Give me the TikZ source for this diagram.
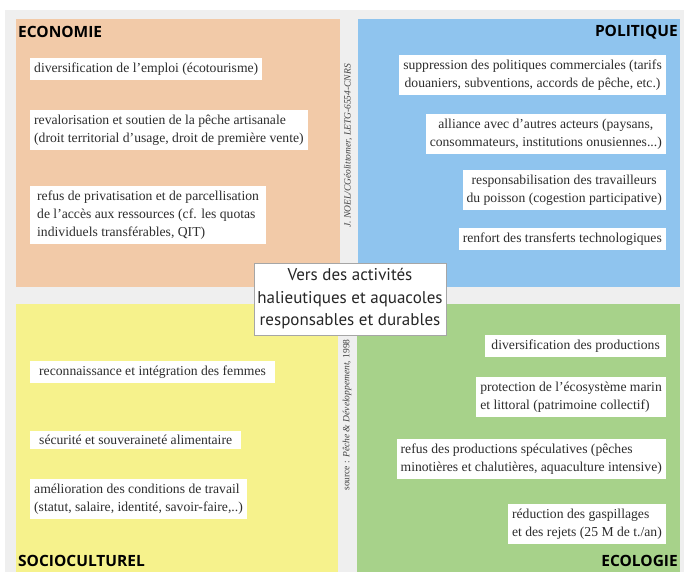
\documentclass[tikz,border=0pt]{standalone}
\usepackage{fontspec}
\setmainfont{Liberation Serif}
\newfontfamily\headfont{PT Sans}
\newfontfamily\labelfont{Open Sans}
\usepackage{xcolor}
\definecolor{ecoorange}{RGB}{242,202,168}
\definecolor{polblue}{RGB}{143,196,238}
\definecolor{socyellow}{RGB}{246,242,140}
\definecolor{ecogreen}{RGB}{167,210,138}
\definecolor{bggrey}{RGB}{239,239,239}
\definecolor{itemtext}{RGB}{45,45,45}
\usetikzlibrary{positioning}

\begin{document}
\begin{tikzpicture}[x=1pt,y=-1pt,
  item/.style={fill=white,inner xsep=4pt,inner ysep=4.5pt,text=itemtext,
               font=\fontsize{13.65}{18}\selectfont},
  itemL/.style={item,anchor=west,align=left},
  itemR/.style={item,anchor=east,align=left},
  itemC/.style={item,anchor=east,align=center},
  quadlabel/.style={font=\labelfont\bfseries\fontsize{15.5}{18}\selectfont,inner sep=0pt},
  credit/.style={rotate=90,font=\fontsize{9.5}{11}\selectfont,text=black!75,inner sep=0pt}]
  \useasboundingbox (0,0) rectangle (684,572);
  \fill[white] (0,0) rectangle (684,572);
  \fill[bggrey] (5,10) rectangle (684,572);
  %% quadrants
  \fill[ecoorange] (16,19) rectangle (340,287);
  \fill[polblue] (358,19) rectangle (680,287);
  \fill[socyellow] (16,304) rectangle (338,572);
  \fill[ecogreen] (357,304) rectangle (680,572);
  %% Economie
  \node[quadlabel,anchor=west] (leco) at (18,32) {ECONOMIE};
  \node[itemL] (e1) at (30,69) {diversification de l'emploi (écotourisme)};
  \node[itemL] (e2) at (30,130)
        {revalorisation et soutien de la pêche artisanale\\(droit territorial d'usage, droit de première vente)};
  \node[itemL,inner xsep=7pt] (e3) at (30,215)
        {refus de privatisation et de parcellisation\\de l'accès aux ressources (cf. les quotas\\individuels transférables, QIT)};
  %% Politique
  \node[quadlabel,anchor=east] (lpol) at (678,32) {POLITIQUE};
  \node[itemC] (p1) at (666,75)
        {suppression des politiques commerciales (tarifs\\douaniers, subventions, accords de pêche, etc.)};
  \node[itemC] (p2) at (666,134)
        {alliance avec d'autres acteurs (paysans,\\consommateurs, institutions onusiennes...)};
  \node[itemC] (p3) at (666,190)
        {responsabilisation des travailleurs\\du poisson (cogestion participative)};
  \node[itemC] (p4) at (666,239) {renfort des transferts technologiques};
  %% Socioculturel
  \node[quadlabel,anchor=west] (lsoc) at (18,561) {SOCIOCULTUREL};
  \node[itemL,inner xsep=9pt] (s1) at (30,372) {reconnaissance et intégration des femmes};
  \node[itemL,inner xsep=9pt] (s2) at (30,440) {sécurité et souveraineté alimentaire};
  \node[itemL] (s3) at (30,499)
        {amélioration des conditions de travail\\(statut, salaire, identité, savoir-faire,..)};
  %% Ecologie
  \node[quadlabel,anchor=east] (lecol) at (678,561) {ECOLOGIE};
  \node[itemR,inner xsep=6pt] (g1) at (666,346) {diversification des productions};
  \node[itemR] (g2) at (666,397)
        {protection de l'écosystème marin\\et littoral (patrimoine collectif)};
  \node[itemR] (g3) at (666,459)
        {refus des productions spéculatives (pêches\\minotières et chalutières, aquaculture intensive)};
  \node[itemR] (g4) at (666,524)
        {réduction des gaspillages\\et des rejets (25 M de t./an)};
  %% credits
  \node[credit] (c1) at (348,146) {\itshape J. NOEL/CGéolittomer, LETG-6554-CNRS};
  \node[credit] (c2) at (347,415) {source : \textit{Pêche \& Développement}, 1998};
  %% centre
  \node[draw=black!35,fill=white,minimum width=190pt,minimum height=72pt,align=center,
        font=\headfont\fontsize{17}{22.5}\selectfont,text=black!85] (centre) at (350,299)
        {Vers des activités\\halieutiques et aquacoles\\responsables et durables};
\end{tikzpicture}
\end{document}
